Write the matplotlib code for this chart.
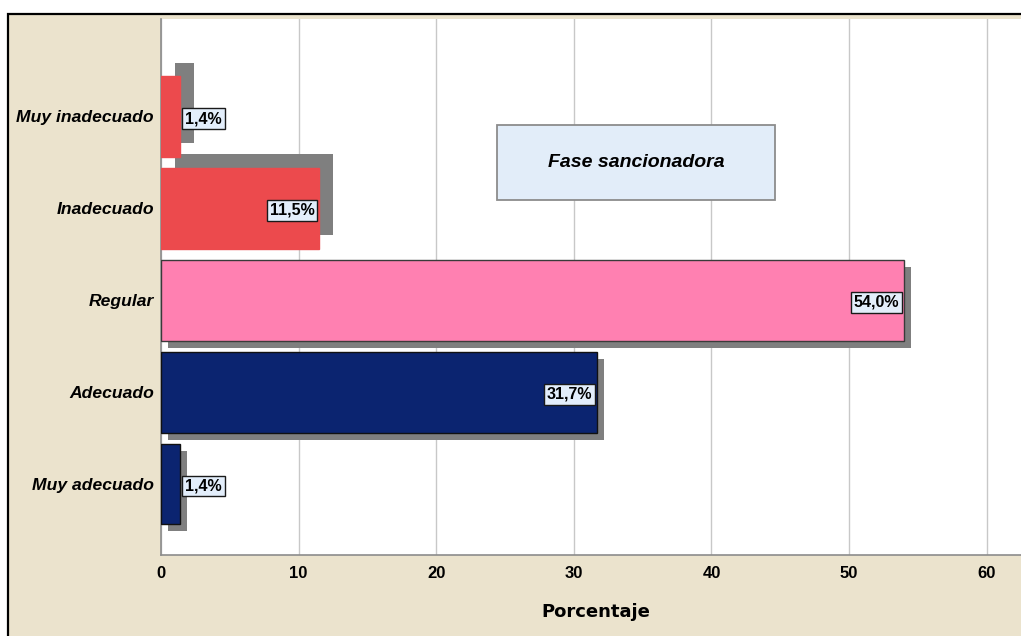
import matplotlib
matplotlib.use("Agg")
import matplotlib.pyplot as plt
from matplotlib.patches import Rectangle
from matplotlib.transforms import offset_copy

# Data (bottom to top)
categories = ["Muy adecuado", "Adecuado", "Regular", "Inadecuado", "Muy inadecuado"]
percentages = [1.4, 31.7, 54.0, 11.5, 1.4]
value_labels = ["1,4%", "31,7%", "54,0%", "11,5%", "1,4%"]
x_ticks = [0, 10, 20, 30, 40, 50, 60]
title_text = "Fase sancionadora"
x_title = "Porcentaje"

# Styling
bar_colors = ["#0B2470", "#0B2470", "#FF80B1", "#EC4A4D", "#EC4A4D"]
edge_colors = ["#111111", "#111111", "#3a3a3a", "#EC4A4D", "#EC4A4D"]
shadow_offsets = [(7, -7), (7, -7), (7, -7), (13.5, 13.5), (13.5, 13.5)]
labels_outside = [True, False, False, False, True]

W, H = 1021, 636
fig = plt.figure(figsize=(W / 100, H / 100), dpi=100)
fig.patch.set_facecolor("white")

# beige chart frame
frame = Rectangle((8 / W, -0.02), 1.0, (H - 14) / H + 0.02, transform=fig.transFigure,
                  facecolor="#EBE3CD", edgecolor="black", linewidth=1.6, zorder=-1)
fig.patches.append(frame)

ax_left, ax_right, ax_top, ax_bottom = 161, 1021, 19, 555
ax = fig.add_axes([ax_left / W, (H - ax_bottom) / H, (ax_right - ax_left) / W, (ax_bottom - ax_top) / H])
ax.set_zorder(1)
ax.set_facecolor("white")

px_per_unit = (986.7 - 161) / 60
ax.set_xlim(0, (ax_right - ax_left) / px_per_unit)
ax.set_ylim(-0.773, 5.061)

ax.set_xticks(x_ticks)
ax.grid(axis="x", color="#C8C8C8", linewidth=1.0, zorder=0)
ax.set_axisbelow(True)

ypos = list(range(len(categories)))
bar_h = 0.88

for y, v, c, ec, (dx, dy) in zip(ypos, percentages, bar_colors, edge_colors, shadow_offsets):
    tr = offset_copy(ax.transData, fig=fig, x=dx, y=dy, units="dots")
    ax.barh(y, v, height=bar_h, color="#7F7F7F", edgecolor="none", transform=tr, zorder=2)
for y, v, c, ec in zip(ypos, percentages, bar_colors, edge_colors):
    ax.barh(y, v, height=bar_h, color=c, edgecolor=ec, linewidth=1.0, zorder=3)

for y, v, s, outside in zip(ypos, percentages, value_labels, labels_outside):
    ax.annotate(s, xy=(v, y), xytext=(3.5 if outside else -3.5, -1.5), textcoords="offset points",
                ha="left" if outside else "right", va="center",
                fontsize=11.5, fontweight="bold", family="Liberation Sans", color="black",
                bbox=dict(boxstyle="square,pad=0.18", facecolor="#E3EEFB", edgecolor="#1a1a1a", linewidth=1.0),
                zorder=5)

ax.set_yticks(ypos)
ax.set_yticklabels(categories, fontsize=12.6, fontweight="bold", fontstyle="italic", family="Liberation Sans")
ax.set_xticklabels([str(t) for t in x_ticks], fontsize=12, fontweight="bold", family="Liberation Sans")
ax.tick_params(axis="both", length=0)
ax.tick_params(axis="x", pad=8)
ax.tick_params(axis="y", pad=5)

for side in ("top", "right"):
    ax.spines[side].set_visible(False)
for side in ("left", "bottom"):
    ax.spines[side].set_color("#8C8C8C")
    ax.spines[side].set_linewidth(1.2)

# title box
bx0, bx1, by0, by1 = 497, 775, 125, 200
ax_w, ax_h = ax_right - ax_left, ax_bottom - ax_top
box = Rectangle(((bx0 - ax_left) / ax_w, (ax_bottom - by1) / ax_h), (bx1 - bx0) / ax_w, (by1 - by0) / ax_h,
                transform=ax.transAxes, facecolor="#E2EDF9", edgecolor="#8C8C8C", linewidth=1.3, zorder=6)
ax.add_patch(box)
ax.text(((bx0 + bx1) / 2 - ax_left) / ax_w, (ax_bottom - (by0 + by1) / 2) / ax_h, title_text,
        transform=ax.transAxes, ha="center", va="center", fontsize=14, fontweight="bold",
        fontstyle="italic", family="Liberation Sans", zorder=7)

fig.text((596) / W, 1 - 612 / H, x_title, ha="center", va="center", fontsize=13,
         fontweight="bold", family="DejaVu Sans")

fig.savefig("out.png", dpi=100)
